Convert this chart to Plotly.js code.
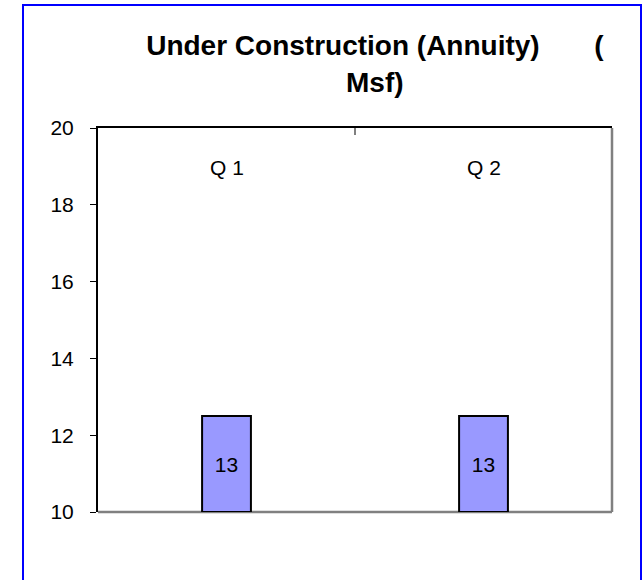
<!DOCTYPE html>
<html>
<head>
<meta charset="utf-8">
<script src="https://cdn.plot.ly/plotly-3.0.1.min.js"></script>
<style>
  html, body { margin: 0; padding: 0; background: #ffffff; overflow: hidden; }
  #chart { width: 644px; height: 580px; position: absolute; left: 0; top: 0; }
  #frame { position: absolute; left: 22px; top: 4px; width: 620px; height: 620px;
           box-sizing: border-box; border: 2px solid #0000ff; pointer-events: none; }
</style>
</head>
<body>
<div id="chart"></div>
<div id="frame"></div>
<script>
// ---- data ----
const categories = ["Q 1", "Q 2"];
const values = [12.5, 12.5];
const valueLabels = ["13", "13"];
const yTickValues = [10, 12, 14, 16, 18, 20];
const chartTitle = "Under Construction (Annuity)\u00a0\u00a0\u00a0\u00a0\u00a0\u00a0\u00a0(<br>Msf)";

const FONT = "Liberation Sans, Arial, sans-serif";
const axisMin = yTickValues[0];

const trace = {
  type: "bar",
  x: categories,
  base: axisMin,
  y: values.map(v => v - axisMin),
  customdata: values,
  text: valueLabels,
  textposition: "inside",
  insidetextanchor: "middle",
  textangle: 0,
  textfont: { family: FONT, size: 21, color: "#000000" },
  marker: { color: "#9999ff", line: { color: "#000000", width: 2 } },
  hovertemplate: "%{x}: %{customdata}<extra></extra>",
  cliponaxis: true
};

const layout = {
  width: 644,
  height: 580,
  margin: { l: 98, r: 32, t: 128, b: 68, pad: 0 },
  paper_bgcolor: "#ffffff",
  plot_bgcolor: "#ffffff",
  showlegend: false,
  bargap: 0.81,
  font: { family: FONT, size: 21, color: "#000000" },
  title: {
    text: chartTitle,
    font: { family: FONT, size: 28, color: "#000000", weight: "bold" },
    xref: "container", yref: "container",
    x: 0.582, xanchor: "center",
    y: 0.905, yanchor: "top"
  },
  xaxis: {
    side: "top",
    type: "category",
    showline: true, linecolor: "#000000", linewidth: 2,
    showgrid: false, zeroline: false,
    ticks: "inside", tickson: "boundaries", ticklen: 7, tickwidth: 2, tickcolor: "#808080",
    showticklabels: false,
    fixedrange: true
  },
  yaxis: {
    range: [10, 20],
    tickvals: yTickValues,
    ticktext: yTickValues.map(String),
    showline: true, linecolor: "#000000", linewidth: 2,
    showgrid: false, zeroline: false,
    ticks: "outside", ticklen: 6, tickwidth: 1, tickcolor: "#000000",
    ticklabelstandoff: 12,
    tickfont: { family: FONT, size: 21, color: "#000000" },
    fixedrange: true
  },
  annotations: categories.map(c => ({
    x: c, xref: "x", y: 0.897, yref: "paper",
    text: c, showarrow: false, xanchor: "center", yanchor: "middle",
    font: { family: FONT, size: 21, color: "#000000" }
  })),
  shapes: [
    { type: "line", xref: "paper", yref: "paper", x0: 0, x1: 1, y0: 0, y1: 0,
      line: { color: "#808080", width: 2.5 }, layer: "below" },
    { type: "line", xref: "paper", yref: "paper", x0: 1, x1: 1, y0: 0, y1: 1,
      line: { color: "#808080", width: 2.5 }, layer: "below" }
  ]
};

Plotly.newPlot("chart", [trace], layout, { displayModeBar: false, staticPlot: true });
</script>
</body>
</html>
